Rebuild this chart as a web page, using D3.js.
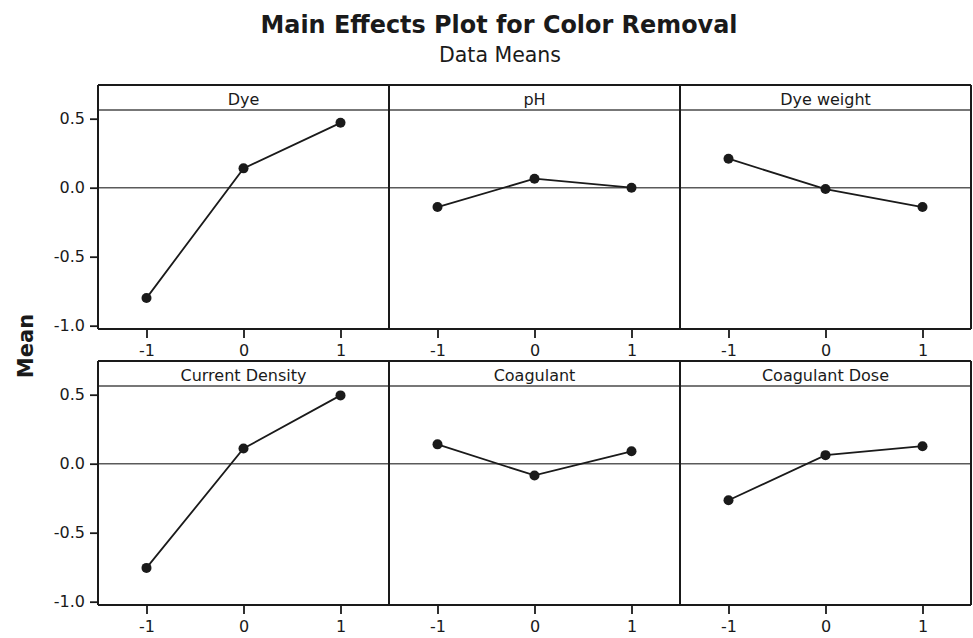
<!DOCTYPE html>
<html>
<head>
<meta charset="utf-8">
<script src="https://cdn.jsdelivr.net/npm/d3@7"></script>
<style>
  body { margin: 0; background: #fff; }
  svg { display: block; }
  text { font-family: "DejaVu Sans", Verdana, sans-serif; fill: #1a1a1a; }
</style>
</head>
<body>
<svg id="chart" width="973" height="638"></svg>
<script>
// Factor names, in panel order (row by row)
const factors = ["Dye", "pH", "Dye weight", "Current Density", "Coagulant", "Coagulant Dose"];
// Coded factor levels
const levels = [-1, 0, 1];
// Mean colour removal at each level, one array per factor
const dyeMeans            = [-0.80, 0.14, 0.47];
const phMeans             = [-0.14, 0.065, 0.00];
const dyeWeightMeans      = [0.21, -0.01, -0.14];
const currentDensityMeans = [-0.755, 0.11, 0.495];
const coagulantMeans      = [0.14, -0.085, 0.09];
const coagulantDoseMeans  = [-0.265, 0.062, 0.127];
// Axis ticks
const xTicks = [-1, 0, 1];
const yTicks = [-1.0, -0.5, 0.0, 0.5];

const means = [dyeMeans, phMeans, dyeWeightMeans, currentDensityMeans, coagulantMeans, coagulantDoseMeans];

const svg = d3.select("#chart");
const ink = "#1a1a1a";

// Panel grid
const colLeft = [98, 389, 680];
const colW = 291;
const stripTop = [85, 361];
const stripH = 25;
const plotH = 219;

const x = d3.scaleLinear().domain([-1.5, 1.5]).range([0, colW]);
const yDomain = [-1.024, 0.563];

// Titles
svg.append("text")
  .attr("x", 499).attr("y", 33)
  .attr("text-anchor", "middle")
  .attr("textLength", 477).attr("lengthAdjust", "spacingAndGlyphs")
  .style("font-size", "25.5px").style("font-weight", "bold")
  .text("Main Effects Plot for Color Removal");
svg.append("text")
  .attr("x", 500).attr("y", 62)
  .attr("text-anchor", "middle")
  .style("font-size", "20.5px")
  .text("Data Means");
svg.append("text")
  .attr("transform", "translate(33,346) rotate(-90)")
  .attr("text-anchor", "middle")
  .style("font-size", "21px").style("font-weight", "bold")
  .text("Mean");

factors.forEach((name, i) => {
  const row = Math.floor(i / 3), col = i % 3;
  const left = colLeft[col];
  const top = stripTop[row];
  const plotTop = top + stripH;
  const plotBottom = plotTop + plotH;
  const y = d3.scaleLinear().domain(yDomain).range([plotBottom, plotTop]);

  const g = svg.append("g").attr("transform", `translate(${left},0)`);

  // Reference line at zero
  g.append("line")
    .attr("x1", 0).attr("x2", colW)
    .attr("y1", y(0)).attr("y2", y(0))
    .attr("stroke", "#5a5a5a").attr("stroke-width", 1.6);

  // Main effect line and level means
  const pts = levels.map((lv, k) => [lv, means[i][k]]);
  g.append("path")
    .datum(pts)
    .attr("fill", "none")
    .attr("stroke", ink).attr("stroke-width", 1.8)
    .attr("d", d3.line().x(d => x(d[0])).y(d => y(d[1])));
  g.selectAll("circle.pt")
    .data(pts)
    .join("circle")
    .attr("class", "pt")
    .attr("cx", d => x(d[0])).attr("cy", d => y(d[1]))
    .attr("r", 5)
    .attr("fill", ink);

  // Strip with factor name
  g.append("line")
    .attr("x1", 0).attr("x2", colW)
    .attr("y1", plotTop).attr("y2", plotTop)
    .attr("stroke", "#4a4a4a").attr("stroke-width", 1.6);
  g.append("line")
    .attr("x1", 0).attr("x2", colW)
    .attr("y1", top).attr("y2", top)
    .attr("stroke", ink).attr("stroke-width", 2);
  g.append("text")
    .attr("x", colW / 2).attr("y", plotTop - 5)
    .attr("text-anchor", "middle")
    .style("font-size", "16px")
    .text(name);

  // Panel sides
  g.append("line")
    .attr("x1", 0).attr("x2", 0).attr("y1", top).attr("y2", plotBottom)
    .attr("stroke", ink).attr("stroke-width", 2);
  if (col === 2) {
    g.append("line")
      .attr("x1", colW).attr("x2", colW).attr("y1", top).attr("y2", plotBottom)
      .attr("stroke", ink).attr("stroke-width", 2);
  }

  // X axis
  const xa = g.append("g")
    .attr("transform", `translate(0,${plotBottom})`)
    .call(d3.axisBottom(x).tickValues(xTicks).tickSize(9).tickPadding(7).tickFormat(d => String(d)));
  xa.select(".domain").remove();
  xa.selectAll(".tick line").attr("stroke", ink).attr("stroke-width", 1.8);
  xa.selectAll(".tick text").style("font-size", "16px").attr("fill", ink)
    .style("font-family", "'DejaVu Sans', Verdana, sans-serif");
  g.append("line")
    .attr("x1", 0).attr("x2", colW).attr("y1", plotBottom).attr("y2", plotBottom)
    .attr("stroke", ink).attr("stroke-width", 2);

  // Y axis on the first panel of each row
  if (col === 0) {
    const ya = g.append("g")
      .call(d3.axisLeft(y).tickValues(yTicks).tickSize(8).tickPadding(5).tickFormat(d => d.toFixed(1)));
    ya.select(".domain").remove();
    ya.selectAll(".tick line").attr("stroke", ink).attr("stroke-width", 1.8);
    ya.selectAll(".tick text").style("font-size", "16px").attr("fill", ink)
      .style("font-family", "'DejaVu Sans', Verdana, sans-serif");
  }
});
</script>
</body>
</html>
